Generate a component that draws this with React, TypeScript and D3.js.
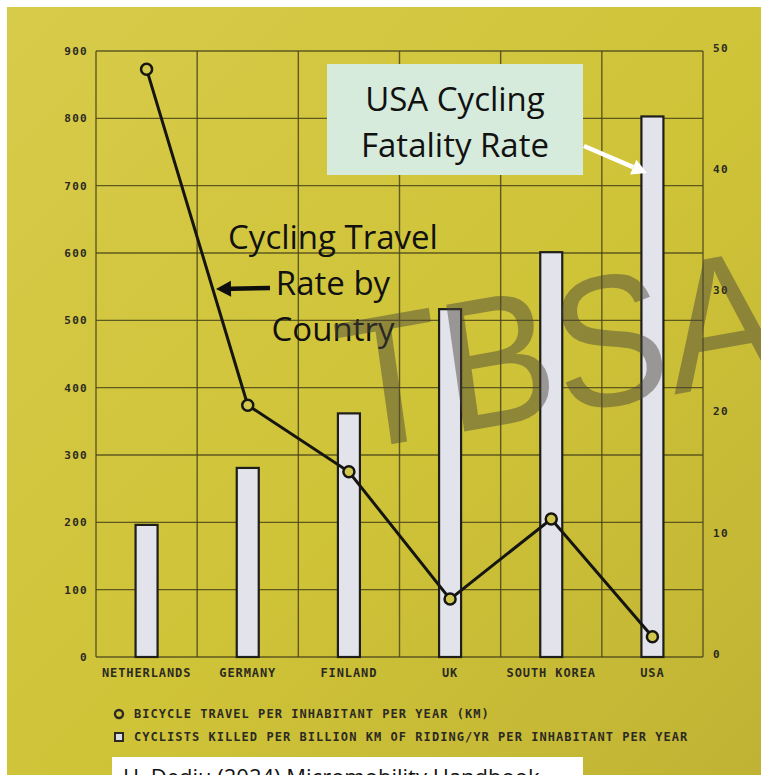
import { useEffect, useRef } from "react"
import * as d3 from "d3"

const countries = ["NETHERLANDS", "GERMANY", "FINLAND", "UK", "SOUTH KOREA", "USA"]
// bicycle travel per inhabitant per year (km), left axis
const travelKm = [873, 374, 275, 86, 205, 30]
// cyclists killed per billion km, right axis
const fatalityRate = [10.9, 15.6, 20.1, 28.7, 33.4, 44.6]
const leftTicks = [0, 100, 200, 300, 400, 500, 600, 700, 800, 900]
const rightTicks = [0, 10, 20, 30, 40, 50]
const legendLabels = [
  "BICYCLE TRAVEL PER INHABITANT PER YEAR (KM)",
  "CYCLISTS KILLED PER BILLION KM OF RIDING/YR PER INHABITANT PER YEAR",
]

const W = 761
const H = 775
const MONO = "'DejaVu Sans Mono', 'Liberation Mono', monospace"
const SANS = "'Open Sans', 'Noto Sans', sans-serif"

const App = () => {
  const svgRef = useRef<SVGSVGElement | null>(null)

  useEffect(() => {
    const margin = { top: 51, right: 58, bottom: 118, left: 96 }
    const svg = d3.select(svgRef.current)
    svg.selectAll("*").remove()

    // photo background: yellow paper, slightly uneven
    const defs = svg.append("defs")
    const grad = defs
      .append("linearGradient")
      .attr("id", "paper")
      .attr("x1", "0")
      .attr("y1", "0")
      .attr("x2", "1")
      .attr("y2", "1")
    grad.append("stop").attr("offset", "0%").attr("stop-color", "#d7cb4a")
    grad.append("stop").attr("offset", "55%").attr("stop-color", "#cfc338")
    grad.append("stop").attr("offset", "100%").attr("stop-color", "#c0b334")

    svg.append("rect").attr("width", W).attr("height", H).attr("fill", "#ffffff")
    svg
      .append("rect")
      .attr("x", 7)
      .attr("y", 7)
      .attr("width", W - 7)
      .attr("height", H - 7)
      .attr("fill", "url(#paper)")

    const x = d3
      .scaleBand()
      .domain(countries)
      .range([margin.left, W - margin.right])
    const yLeft = d3
      .scaleLinear()
      .domain([0, 900])
      .range([H - margin.bottom, margin.top])
    const yRight = d3
      .scaleLinear()
      .domain([0, 50])
      .range([H - margin.bottom, margin.top])

    const gridColor = "#4a451a"
    const grid = svg.append("g").attr("stroke", gridColor).attr("stroke-opacity", 0.85)

    // horizontal grid lines
    grid
      .selectAll("line.h")
      .data(leftTicks)
      .enter()
      .append("line")
      .attr("x1", margin.left)
      .attr("x2", W - margin.right)
      .attr("y1", (d) => yLeft(d))
      .attr("y2", (d) => yLeft(d))
      .attr("stroke-width", 1.4)

    // vertical grid lines on band edges
    const edges = countries.map((c) => x(c)!).concat([W - margin.right])
    grid
      .selectAll("line.v")
      .data(edges)
      .enter()
      .append("line")
      .attr("x1", (d) => d)
      .attr("x2", (d) => d)
      .attr("y1", margin.top)
      .attr("y2", H - margin.bottom)
      .attr("stroke-width", 1.4)

    const labelStyle = (sel: any, size: number, spacing: number) =>
      sel
        .attr("font-family", MONO)
        .attr("font-weight", "bold")
        .attr("font-size", size)
        .attr("letter-spacing", spacing)
        .attr("fill", "#2c2a22")

    // left tick labels
    svg
      .append("g")
      .selectAll("text")
      .data(leftTicks)
      .enter()
      .append("text")
      .attr("x", margin.left - 8)
      .attr("y", (d) => yLeft(d))
      .attr("dy", "0.35em")
      .attr("text-anchor", "end")
      .call(labelStyle, 11, 1.3)
      .text((d) => d)

    // right tick labels
    svg
      .append("g")
      .selectAll("text")
      .data(rightTicks)
      .enter()
      .append("text")
      .attr("x", W - margin.right + 10)
      .attr("y", (d) => yRight(d) - 3)
      .attr("dy", "0.35em")
      .attr("text-anchor", "start")
      .call(labelStyle, 11, 1.3)
      .text((d) => d)

    // category labels
    svg
      .append("g")
      .selectAll("text")
      .data(countries)
      .enter()
      .append("text")
      .attr("x", (d) => x(d)! + x.bandwidth() / 2)
      .attr("y", H - margin.bottom + 20)
      .attr("text-anchor", "middle")
      .call(labelStyle, 12, 0.9)
      .text((d) => d)

    // fatality bars
    const barW = 22
    svg
      .append("g")
      .selectAll("rect")
      .data(countries)
      .enter()
      .append("rect")
      .attr("x", (d) => x(d)! + x.bandwidth() / 2 - barW / 2)
      .attr("y", (_, i) => yRight(fatalityRate[i]))
      .attr("width", barW)
      .attr("height", (_, i) => yRight(0) - yRight(fatalityRate[i]))
      .attr("fill", "#e3e3ec")
      .attr("stroke", "#1e1e1a")
      .attr("stroke-width", 2.2)

    // travel line
    const line = d3
      .line<number>()
      .x((_, i) => x(countries[i])! + x.bandwidth() / 2)
      .y((d) => yLeft(d))
    svg
      .append("path")
      .datum(travelKm)
      .attr("d", line)
      .attr("fill", "none")
      .attr("stroke", "#151512")
      .attr("stroke-width", 3)

    svg
      .append("g")
      .selectAll("circle")
      .data(travelKm)
      .enter()
      .append("circle")
      .attr("cx", (_, i) => x(countries[i])! + x.bandwidth() / 2)
      .attr("cy", (d) => yLeft(d))
      .attr("r", 5.5)
      .attr("fill", "#d3c84e")
      .attr("stroke", "#151512")
      .attr("stroke-width", 2.5)

    // legend
    const legend = svg.append("g")
    legend
      .append("circle")
      .attr("cx", 119)
      .attr("cy", 714)
      .attr("r", 4)
      .attr("fill", "none")
      .attr("stroke", "#2c2a22")
      .attr("stroke-width", 2.4)
    legend
      .append("rect")
      .attr("x", 115)
      .attr("y", 733)
      .attr("width", 8)
      .attr("height", 8)
      .attr("fill", "#dcdce6")
      .attr("stroke", "#2c2a22")
      .attr("stroke-width", 2)
    legend
      .selectAll("text")
      .data(legendLabels)
      .enter()
      .append("text")
      .attr("x", 134)
      .attr("y", (_, i) => 718 + i * 23)
      .call(labelStyle, 12, 1.05)
      .text((d) => d)

    // source caption (cut off at the bottom)
    svg
      .append("rect")
      .attr("x", 112)
      .attr("y", 757)
      .attr("width", 471)
      .attr("height", 30)
      .attr("fill", "#ffffff")
    svg
      .append("text")
      .attr("x", 123)
      .attr("y", 785)
      .attr("font-family", SANS)
      .attr("font-size", 22)
      .attr("fill", "#111")
      .text("H. Dediu (2024) Micromobility Handbook")

    // annotation: USA fatality box
    svg
      .append("rect")
      .attr("x", 327)
      .attr("y", 64)
      .attr("width", 256)
      .attr("height", 111)
      .attr("fill", "#d6ebdc")
    svg
      .append("g")
      .selectAll("text")
      .data(["USA Cycling", "Fatality Rate"])
      .enter()
      .append("text")
      .attr("x", 455)
      .attr("y", (_, i) => 111 + i * 46)
      .attr("text-anchor", "middle")
      .attr("font-family", SANS)
      .attr("font-size", 33)
      .attr("fill", "#111")
      .text((d) => d)

    // annotation: travel rate text
    svg
      .append("g")
      .selectAll("text")
      .data(["Cycling Travel", "Rate by", "Country"])
      .enter()
      .append("text")
      .attr("x", 333)
      .attr("y", (_, i) => 249 + i * 46)
      .attr("text-anchor", "middle")
      .attr("font-family", SANS)
      .attr("font-size", 33)
      .attr("fill", "#111")
      .text((d) => d)

    // arrows
    const arrow = (x1: number, y1: number, x2: number, y2: number, color: string) => {
      const ang = Math.atan2(y2 - y1, x2 - x1)
      const len = 15
      const half = 8
      const bx = x2 - len * Math.cos(ang)
      const by = y2 - len * Math.sin(ang)
      svg
        .append("line")
        .attr("x1", x1)
        .attr("y1", y1)
        .attr("x2", bx)
        .attr("y2", by)
        .attr("stroke", color)
        .attr("stroke-width", 4.5)
      const px = -Math.sin(ang) * half
      const py = Math.cos(ang) * half
      svg
        .append("path")
        .attr("d", `M${x2},${y2}L${bx + px},${by + py}L${bx - px},${by - py}Z`)
        .attr("fill", color)
    }
    arrow(270, 288, 216, 289, "#0d0d0d")
    arrow(584, 146, 647, 173, "#ffffff")

    // TBSA watermark
    svg
      .append("text")
      .attr("transform", "translate(348,452) rotate(-10) skewX(-2)")
      .attr("font-family", "'Liberation Sans', sans-serif")
      .attr("font-size", 186)
      .attr("textLength", 445)
      .attr("lengthAdjust", "spacingAndGlyphs")
      .attr("fill", "#4a4438")
      .attr("fill-opacity", 0.48)
      .text("TBSA")
  }, [])

  return (
    <svg
      ref={svgRef}
      width={W}
      height={H}
      style={{ position: "absolute", left: 0, top: 0, display: "block" }}
    />
  )
}

export default App
